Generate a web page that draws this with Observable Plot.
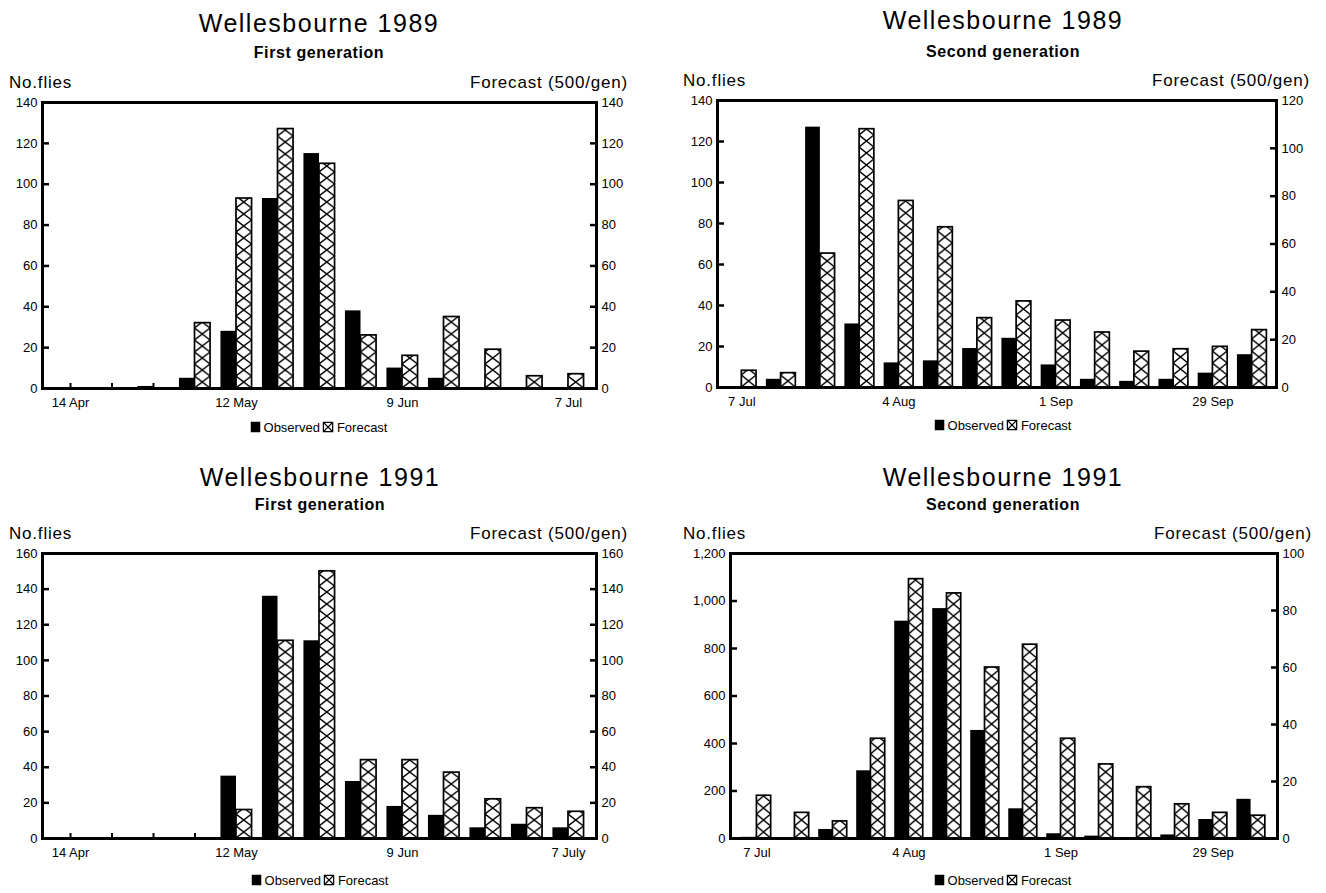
<!DOCTYPE html>
<html>
<head>
<meta charset="utf-8">
<script src="https://cdn.jsdelivr.net/npm/d3@7"></script>
<script src="https://cdn.jsdelivr.net/npm/@observablehq/plot@0.6"></script>
<style>
  body { margin: 0; background: #fff; }
  #page { position: relative; width: 1326px; height: 893px; overflow: hidden;
          font-family: "Liberation Sans", Arial, Helvetica, sans-serif; color: #000; }
  .txt { position: absolute; white-space: nowrap; line-height: 1; }
  .panel-svg { position: absolute; }
  .legend { position: absolute; white-space: nowrap; line-height: 1; font-size: 13px;
            display: flex; align-items: center; gap: 3px; transform: translate(-50%, -50%); }
  .legend svg { display: block; }
</style>
</head>
<body>
<div id="page"></div>
<script>
// Weekly sampling dates (categories)
const weeksGen1 = ["14 Apr", "21 Apr", "28 Apr", "5 May", "12 May", "19 May", "26 May",
                   "2 Jun", "9 Jun", "16 Jun", "23 Jun", "30 Jun", "7 Jul"];
const weeksGen2 = ["7 Jul", "14 Jul", "21 Jul", "28 Jul", "4 Aug", "11 Aug", "18 Aug",
                   "25 Aug", "1 Sep", "8 Sep", "15 Sep", "22 Sep", "29 Sep", "6 Oct"];

// Labelled weeks and their tick text
const tickWeeksGen1 = ["14 Apr", "12 May", "9 Jun", "7 Jul"];
const tickWeeksGen2 = ["7 Jul", "4 Aug", "1 Sep", "29 Sep"];
const tickLabels1989Gen1 = ["14 Apr", "12 May", "9 Jun", "7 Jul"];
const tickLabels1991Gen1 = ["14 Apr", "12 May", "9 Jun", "7 July"];
const tickLabelsGen2 = ["7 Jul", "4 Aug", "1 Sep", "29 Sep"];

// Wellesbourne 1989, first generation
const observed1989Gen1 = [0, 0, 1, 5, 28, 93, 115, 38, 10, 5, 0, 0, 0];
const forecast1989Gen1 = [0, 0, 0, 32, 93, 127, 110, 26, 16, 35, 19, 6, 7];
// Wellesbourne 1989, second generation
const observed1989Gen2 = [0, 4, 127, 31, 12, 13, 19, 24, 11, 4, 3, 4, 7, 16];
const forecast1989Gen2 = [7, 6, 56, 108, 78, 67, 29, 36, 28, 23, 15, 16, 17, 24];
// Wellesbourne 1991, first generation
const observed1991Gen1 = [0, 0, 0, 0, 35, 136, 111, 32, 18, 13, 6, 8, 6];
const forecast1991Gen1 = [0, 0, 0, 0, 16, 111, 150, 44, 44, 37, 22, 17, 15];
// Wellesbourne 1991, second generation
const observed1991Gen2 = [5, 0, 38, 285, 915, 968, 455, 125, 20, 10, 0, 15, 80, 165];
const forecast1991Gen2 = [15, 9, 6, 35, 91, 86, 60, 68, 35, 26, 18, 12, 9, 8];

// Axis ticks: left = number of flies, right = forecast (500 per generation)
const leftTicks1989Gen1 = [0, 20, 40, 60, 80, 100, 120, 140];
const rightTicks1989Gen1 = [0, 20, 40, 60, 80, 100, 120, 140];
const leftTicks1989Gen2 = [0, 20, 40, 60, 80, 100, 120, 140];
const rightTicks1989Gen2 = [0, 20, 40, 60, 80, 100, 120];
const leftTicks1991Gen1 = [0, 20, 40, 60, 80, 100, 120, 140, 160];
const rightTicks1991Gen1 = [0, 20, 40, 60, 80, 100, 120, 140, 160];
const leftTicks1991Gen2 = [0, 200, 400, 600, 800, 1000, 1200];
const rightTicks1991Gen2 = [0, 20, 40, 60, 80, 100];

const titles = ["Wellesbourne 1989", "Wellesbourne 1989", "Wellesbourne 1991", "Wellesbourne 1991"];
const subtitles = ["First generation", "Second generation", "First generation", "Second generation"];

const panels = [
  {id: "a", title: titles[0], subtitle: subtitles[0], weeks: weeksGen1, observed: observed1989Gen1, forecast: forecast1989Gen1,
   tickWeeks: tickWeeksGen1, tickLabels: tickLabels1989Gen1, leftTicks: leftTicks1989Gen1, rightTicks: rightTicks1989Gen1,
   frame: {x: 42, y: 102, w: 554, h: 286}, padOuter: 0.30, cx: 319, titleY: 23, subY: 53, axisY: 82, legendY: 427,
   leftTextX: 9, rightTextX: 628},
  {id: "b", title: titles[1], subtitle: subtitles[1], weeks: weeksGen2, observed: observed1989Gen2, forecast: forecast1989Gen2,
   tickWeeks: tickWeeksGen2, tickLabels: tickLabelsGen2, leftTicks: leftTicks1989Gen2, rightTicks: rightTicks1989Gen2,
   frame: {x: 717, y: 100, w: 559, h: 287}, padOuter: 0.245, cx: 1003, titleY: 20, subY: 52, axisY: 80, legendY: 425,
   leftTextX: 683, rightTextX: 1310},
  {id: "c", title: titles[2], subtitle: subtitles[2], weeks: weeksGen1, observed: observed1991Gen1, forecast: forecast1991Gen1,
   tickWeeks: tickWeeksGen1, tickLabels: tickLabels1991Gen1, leftTicks: leftTicks1991Gen1, rightTicks: rightTicks1991Gen1,
   frame: {x: 42, y: 553, w: 554, h: 285}, padOuter: 0.30, cx: 320, titleY: 477, subY: 505, axisY: 533, legendY: 880,
   leftTextX: 9, rightTextX: 628},
  {id: "d", title: titles[3], subtitle: subtitles[3], weeks: weeksGen2, observed: observed1991Gen2, forecast: forecast1991Gen2,
   tickWeeks: tickWeeksGen2, tickLabels: tickLabelsGen2, leftTicks: leftTicks1991Gen2, rightTicks: rightTicks1991Gen2,
   frame: {x: 730, y: 553, w: 547, h: 285}, padOuter: 0.32, cx: 1003, titleY: 477, subY: 505, axisY: 533, legendY: 880,
   leftTextX: 683, rightTextX: 1312, leftFormat: d3.format(",")}
];

const page = document.getElementById("page");
const FONT = '"Liberation Sans", Arial, Helvetica, sans-serif';
const TICK = 7; // inward tick length

function addText(text, x, y, anchor, style) {
  const el = document.createElement("div");
  el.className = "txt";
  el.textContent = text;
  el.style.left = x + "px";
  el.style.top = y + "px";
  const tx = anchor === "middle" ? "-50%" : anchor === "end" ? "-100%" : "0";
  el.style.transform = `translate(${tx}, -50%)`;
  Object.assign(el.style, style);
  page.appendChild(el);
  return el;
}

function hatchSwatch() {
  return `<svg width="11" height="11"><rect x="0.75" y="0.75" width="9.5" height="9.5" fill="#fff" stroke="#000" stroke-width="1.5"/>
    <path d="M1,1L10,10M10,1L1,10" stroke="#000" stroke-width="1.1"/></svg>`;
}

function drawPanel(p) {
  const ml = 60, mr = 60, mt = 12, mb = 36;
  const n = p.weeks.length;
  const padInner = 0.25;
  const step = p.frame.w / (n - padInner + 2 * p.padOuter);
  const bw = step * (1 - padInner);
  const leftMax = p.leftTicks[p.leftTicks.length - 1];
  const rightMax = p.rightTicks[p.rightTicks.length - 1];
  const k = leftMax / rightMax; // forecast units -> left-axis units
  const rows = p.weeks.map((week, i) => ({week, observed: p.observed[i], forecast: p.forecast[i]}));
  const labelOf = new Map(p.tickWeeks.map((w, i) => [w, p.tickLabels[i]]));
  const hatchId = "hatch-" + p.id;
  const leftFormat = p.leftFormat || (d => String(d));

  const svg = Plot.plot({
    width: p.frame.w + ml + mr,
    height: p.frame.h + mt + mb,
    marginLeft: ml, marginRight: mr, marginTop: mt, marginBottom: mb,
    style: {fontFamily: FONT, fontSize: "13px", color: "#000", background: "transparent", overflow: "visible"},
    x: {type: "band", domain: p.weeks, paddingInner: padInner, paddingOuter: p.padOuter, align: 0.5, round: false},
    y: {domain: [0, leftMax], nice: false},
    marks: [
      // short ticks pointing up into the plot at every week
      Plot.axisX({ticks: p.weeks, tickSize: 5, dy: -5, strokeWidth: 2, fill: "none", label: null}),
      Plot.barY(rows, {x: "week", y: "observed", fill: "#000", insetRight: bw / 2}),
      Plot.barY(rows, {x: "week", y: d => d.forecast * k, fill: `url(#${hatchId})`, stroke: "#000",
                       strokeWidth: 1.7, insetLeft: bw / 2}),
      Plot.axisX({ticks: p.tickWeeks, tickSize: 0, tickPadding: 9, tickFormat: d => labelOf.get(d), label: null,
                  letterSpacing: "0.6px"}),
      // y ticks drawn inward from the frame, labels outside
      Plot.axisY({ticks: p.leftTicks, anchor: "left", tickSize: TICK, dx: TICK, tickPadding: 5, strokeWidth: 2.5,
                  tickFormat: leftFormat, label: null}),
      Plot.axisY({ticks: p.rightTicks.map(v => v * k), anchor: "right", tickSize: TICK, dx: -TICK, tickPadding: 5,
                  strokeWidth: 2.5, tickFormat: d => String(Math.round(d / k)), label: null}),
      Plot.frame({strokeWidth: 3})
    ]
  });

  // Cross-hatch fill, one X per forecast bar width, aligned to the bars
  const x0 = ml + step * p.padOuter + bw / 2;
  const cellH = 12;
  const half = bw / 2;
  const defs = d3.select(svg).insert("defs", ":first-child");
  const pat = defs.append("pattern")
    .attr("id", hatchId)
    .attr("patternUnits", "userSpaceOnUse")
    .attr("x", x0).attr("y", mt + p.frame.h)
    .attr("width", step).attr("height", cellH);
  pat.append("rect").attr("width", half).attr("height", cellH).attr("fill", "#fff");
  pat.append("path")
    .attr("d", `M0,0L${half},${cellH}M${half},0L0,${cellH}`)
    .attr("stroke", "#000").attr("stroke-width", 1.4).attr("fill", "none");

  svg.classList.add("panel-svg");
  svg.style.left = (p.frame.x - ml) + "px";
  svg.style.top = (p.frame.y - mt) + "px";
  svg.style.maxWidth = "none";
  page.appendChild(svg);

  addText(p.title, p.cx, p.titleY, "middle", {fontSize: "25px", letterSpacing: "1.5px"});
  addText(p.subtitle, p.cx, p.subY, "middle", {fontSize: "16px", fontWeight: "bold", letterSpacing: "0.6px"});
  addText("No.flies", p.leftTextX, p.axisY, "start", {fontSize: "17px", letterSpacing: "0.8px"});
  addText("Forecast (500/gen)", p.rightTextX, p.axisY, "end", {fontSize: "17px", letterSpacing: "0.8px"});

  const leg = document.createElement("div");
  leg.className = "legend";
  leg.style.left = p.cx + "px";
  leg.style.top = p.legendY + "px";
  leg.innerHTML = `<svg width="10" height="11"><rect width="10" height="11" fill="#000"/></svg><span>Observed</span>`
    + hatchSwatch() + `<span>Forecast</span>`;
  page.appendChild(leg);
}

panels.forEach(drawPanel);
</script>
</body>
</html>
